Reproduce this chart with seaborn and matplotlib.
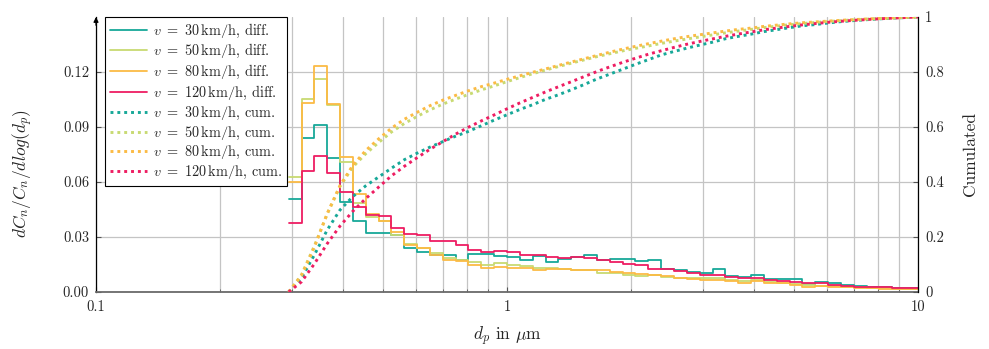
import numpy as np
import pandas as pd
import matplotlib
matplotlib.use("Agg")
import matplotlib.pyplot as plt
import seaborn as sns
from matplotlib.ticker import FixedLocator, LogLocator, NullFormatter

# ---------------- data ----------------
# 49 logarithmic size bins from ~0.296 um to 10 um (32 bins per decade)
n_bins = 49
d_min_log = 1 - n_bins / 32.0
bin_edges = np.logspace(d_min_log, 1.0, n_bins + 1)

speeds = ["30", "50", "80", "120"]

diff_30 = [0.051, 0.084, 0.091, 0.073, 0.049, 0.039, 0.032, 0.032, 0.031, 0.024,
           0.022, 0.020, 0.020, 0.0174, 0.0205, 0.0205, 0.0195, 0.0193, 0.0174, 0.0196,
           0.0165, 0.0182, 0.0191, 0.0204, 0.0176, 0.0178, 0.018, 0.0169, 0.0172, 0.0127,
           0.0122, 0.0111, 0.0106, 0.0125, 0.0087, 0.008, 0.0093, 0.0071, 0.0073, 0.0069,
           0.0044, 0.0056, 0.0051, 0.0038, 0.0033, 0.003, 0.0026, 0.0022, 0.002]
diff_50 = [0.063, 0.1055, 0.116, 0.102, 0.0711, 0.0484, 0.041, 0.0385, 0.031, 0.0262,
           0.0238, 0.0211, 0.0184, 0.0172, 0.0165, 0.0147, 0.0156, 0.0147, 0.0142, 0.0133,
           0.0129, 0.0124, 0.012, 0.012, 0.0105, 0.0105, 0.0093, 0.0087, 0.0093, 0.0084,
           0.0078, 0.0075, 0.0075, 0.0075, 0.0065, 0.006, 0.0065, 0.0056, 0.0051, 0.0044,
           0.0038, 0.0035, 0.0033, 0.003, 0.0025, 0.0022, 0.002, 0.0018, 0.0018]
diff_80 = [0.060, 0.1032, 0.1232, 0.1025, 0.0734, 0.0537, 0.0424, 0.039, 0.0326, 0.0255,
           0.0242, 0.0202, 0.0174, 0.0169, 0.015, 0.0129, 0.0138, 0.0129, 0.0129, 0.012,
           0.0128, 0.0124, 0.012, 0.012, 0.012, 0.0111, 0.0102, 0.0096, 0.0093, 0.0087,
           0.0078, 0.0069, 0.0067, 0.0067, 0.0062, 0.0047, 0.0062, 0.0047, 0.0047, 0.004,
           0.0029, 0.0031, 0.0028, 0.0026, 0.0024, 0.002, 0.0018, 0.0017, 0.0016]
diff_120 = [0.0374, 0.066, 0.0742, 0.065, 0.0543, 0.0463, 0.042, 0.0415, 0.035, 0.0318,
            0.031, 0.0278, 0.0278, 0.0255, 0.0231, 0.022, 0.0225, 0.0217, 0.0202, 0.0202,
            0.0189, 0.0184, 0.0189, 0.0186, 0.0172, 0.0165, 0.0152, 0.0147, 0.0127, 0.0124,
            0.0116, 0.0102, 0.0095, 0.0093, 0.0084, 0.0078, 0.0078, 0.0065, 0.0062, 0.0056,
            0.0047, 0.0047, 0.0038, 0.0033, 0.003, 0.0028, 0.0025, 0.0021, 0.002]

diff_series = [diff_30, diff_50, diff_80, diff_120]
colors = ["#17a898", "#c8da72", "#fbbb45", "#ee1d62"]

x_ticks = [0.1, 1, 10]
x_tick_labels = ["0.1", "1", "10"]
y_ticks = [0.0, 0.03, 0.06, 0.09, 0.12]
y_tick_labels = ["0.00", "0.03", "0.06", "0.09", "0.12"]
y2_ticks = [0, 0.2, 0.4, 0.6, 0.8, 1.0]
y2_tick_labels = ["0", "0.2", "0.4", "0.6", "0.8", "1"]

# ---------------- tables ----------------
rows_diff, rows_cum = [], []
for s, vals in zip(speeds, diff_series):
    v = np.asarray(vals, dtype=float)
    step_y = np.append(v, v[-1])
    cum = np.concatenate([[0.0], np.cumsum(v)]) / v.sum()
    for xe, yd, yc in zip(bin_edges, step_y, cum):
        rows_diff.append({"d": xe, "val": yd, "speed": s})
        rows_cum.append({"d": xe, "val": yc, "speed": s})
df_diff = pd.DataFrame(rows_diff)
df_cum = pd.DataFrame(rows_cum)

# ---------------- style ----------------
sns.set_style("ticks")
plt.rcParams["font.family"] = ["cmr10", "DejaVu Serif"]
plt.rcParams["mathtext.fontset"] = "cm"
plt.rcParams["axes.unicode_minus"] = False

fig = plt.figure(figsize=(9.89, 3.49), dpi=100)
ax = fig.add_axes([96 / 989, 1 - 292 / 349, 822 / 989, 275 / 349])
ax.set_xscale("log")
ax2 = ax.twinx()

palette = dict(zip(speeds, colors))
sns.lineplot(data=df_diff, x="d", y="val", hue="speed", palette=palette,
             hue_order=speeds, estimator=None, sort=False, drawstyle="steps-post",
             linewidth=1.3, legend=False, ax=ax)
sns.lineplot(data=df_cum, x="d", y="val", hue="speed", palette=palette,
             hue_order=speeds, estimator=None, sort=False,
             linewidth=2.1, legend=False, ax=ax2)
for ln in ax2.get_lines():
    ln.set_linestyle((0, (1.0, 1.35)))

ax.set_xlim(0.1, 10)
ax.set_ylim(0, 0.15)
ax2.set_ylim(0, 1)

ax.xaxis.set_major_locator(FixedLocator(x_ticks))
ax.set_xticklabels(x_tick_labels)
ax.xaxis.set_minor_locator(LogLocator(base=10, subs=np.arange(2, 10)))
ax.xaxis.set_minor_formatter(NullFormatter())
ax.yaxis.set_major_locator(FixedLocator(y_ticks))
ax.set_yticklabels(y_tick_labels)
ax2.yaxis.set_major_locator(FixedLocator(y2_ticks))
ax2.set_yticklabels(y2_tick_labels)

grid_c = "#c4c4c4"
ax.grid(True, which="major", axis="both", color=grid_c, linewidth=0.9)
ax.grid(True, which="minor", axis="x", color=grid_c, linewidth=0.9)
ax.set_axisbelow(True)

for a in (ax, ax2):
    a.tick_params(axis="both", which="both", direction="in", labelsize=10.5,
                  color="#555555")
    a.tick_params(which="major", length=3.5, width=0.8)
    a.tick_params(which="minor", length=2.0, width=0.6)
    a.spines["top"].set_visible(False)
ax.tick_params(axis="x", pad=6)
ax.tick_params(axis="y", pad=5)
ax2.tick_params(axis="y", pad=5)

ax.spines["left"].set_color("black")
ax.spines["left"].set_linewidth(0.9)
ax.spines["bottom"].set_color("#6a6a6a")
ax.spines["bottom"].set_linewidth(1.3)
ax.spines["right"].set_visible(False)
ax2.spines["left"].set_visible(False)
ax2.spines["bottom"].set_visible(False)
ax2.spines["right"].set_color("black")
ax2.spines["right"].set_linewidth(0.9)

# arrow tip at the top of the left axis
ax.annotate("", xy=(0, 1.0), xytext=(0, 0.97), xycoords="axes fraction",
            arrowprops=dict(arrowstyle="-|>", color="black", lw=0.9,
                            mutation_scale=7, shrinkA=0, shrinkB=0))

ax.set_xlabel(r"$d_p$ in $\mu$m", fontsize=12.5, labelpad=8)
ax.set_ylabel(r"$dC_n/C_n/dlog(d_p)$", fontsize=12.5)
ax.yaxis.set_label_coords(-0.074, 0.43)
ax2.set_ylabel("Cumulated", fontsize=12.5)
ax2.yaxis.set_label_coords(1.054, 0.5)

# legend
handles = list(ax.get_lines())[:4] + list(ax2.get_lines())[:4]
labels = [rf"$v\ =\ {s}\,\mathrm{{km/h}}$, diff." for s in speeds] + \
         [rf"$v\ =\ {s}\,\mathrm{{km/h}}$, cum." for s in speeds]
leg = ax2.legend(handles, labels, loc="upper left", bbox_to_anchor=(0.011, 1.0),
                 borderaxespad=0, fontsize=10.3, frameon=True, fancybox=False,
                 edgecolor="black", framealpha=1, handlelength=2.6,
                 handletextpad=0.45, labelspacing=0.19, borderpad=0.32)
leg.get_frame().set_linewidth(0.8)
leg.set_zorder(10)

fig.savefig("out.png", dpi=100)
